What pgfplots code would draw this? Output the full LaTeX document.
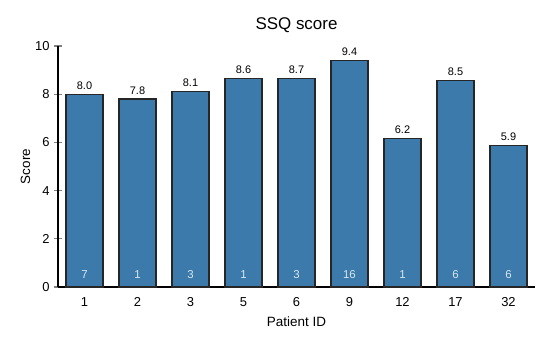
\documentclass[border=0pt]{standalone}
\usepackage{fontspec}
\setmainfont{Liberation Sans}
\usepackage{pgfplots}
\pgfplotsset{compat=1.18}
\usetikzlibrary{calc}
\definecolor{barblue}{HTML}{3B7AAA}
\definecolor{countcol}{HTML}{D6E6F4}
\begin{document}
\begin{tikzpicture}
\begin{axis}[
  scale only axis,
  width=477bp, height=241bp,
  xmin=-0.5, xmax=8.5,
  ymin=0, ymax=10,
  axis x line*=bottom,
  axis y line*=left,
  axis line style={line width=1.3pt},
  xtick={0,1,2,3,4,5,6,7,8},
  xticklabels={1,2,3,5,6,9,12,17,32},
  ytick={0,2,4,6,8,10},
  x tick style={draw=none},
  y tick style={line width=1.3pt},
  tick align=center,
  major tick length=8bp,
  tick label style={font=\fontsize{13}{15}\selectfont},
  /pgf/number format/assume math mode=true,
  xlabel={Patient ID},
  ylabel={Score},
  label style={font=\fontsize{13.5}{15}\selectfont},
  title={SSQ score},
  title style={font=\fontsize{17}{20}\selectfont, yshift=4bp},
  xlabel style={yshift=-3bp},
  ylabel style={yshift=-2bp},
  xticklabel style={yshift=-3bp},
  yticklabel style={xshift=-1bp},
  clip=false,
]
\addplot[ybar, bar width=37bp, fill=barblue, draw=black!85, line width=1.1pt,
  nodes near coords, point meta=explicit symbolic,
  nodes near coords style={font=\fontsize{11}{13}\selectfont, text=black, yshift=1bp}]
  table[meta=lab] {
x y lab
0 8.00 8.0
1 7.80 7.8
2 8.12 8.1
3 8.65 8.6
4 8.67 8.7
5 9.38 9.4
6 6.18 6.2
7 8.55 8.5
8 5.88 5.9
};
\addplot[only marks, mark=none,
  nodes near coords, point meta=explicit symbolic,
  nodes near coords style={font=\fontsize{11.5}{13}\selectfont, text=countcol, anchor=center}]
  table[meta=n] {
x y n
0 0.52 7
1 0.52 1
2 0.52 3
3 0.52 1
4 0.52 3
5 0.52 16
6 0.52 1
7 0.52 6
8 0.52 6
};
\end{axis}
\pgfresetboundingbox
\path[use as bounding box] ($(current axis.south west)+(-58bp,-55bp)$) rectangle ($(current axis.north east)+(9bp,46bp)$);
\end{tikzpicture}
\end{document}
